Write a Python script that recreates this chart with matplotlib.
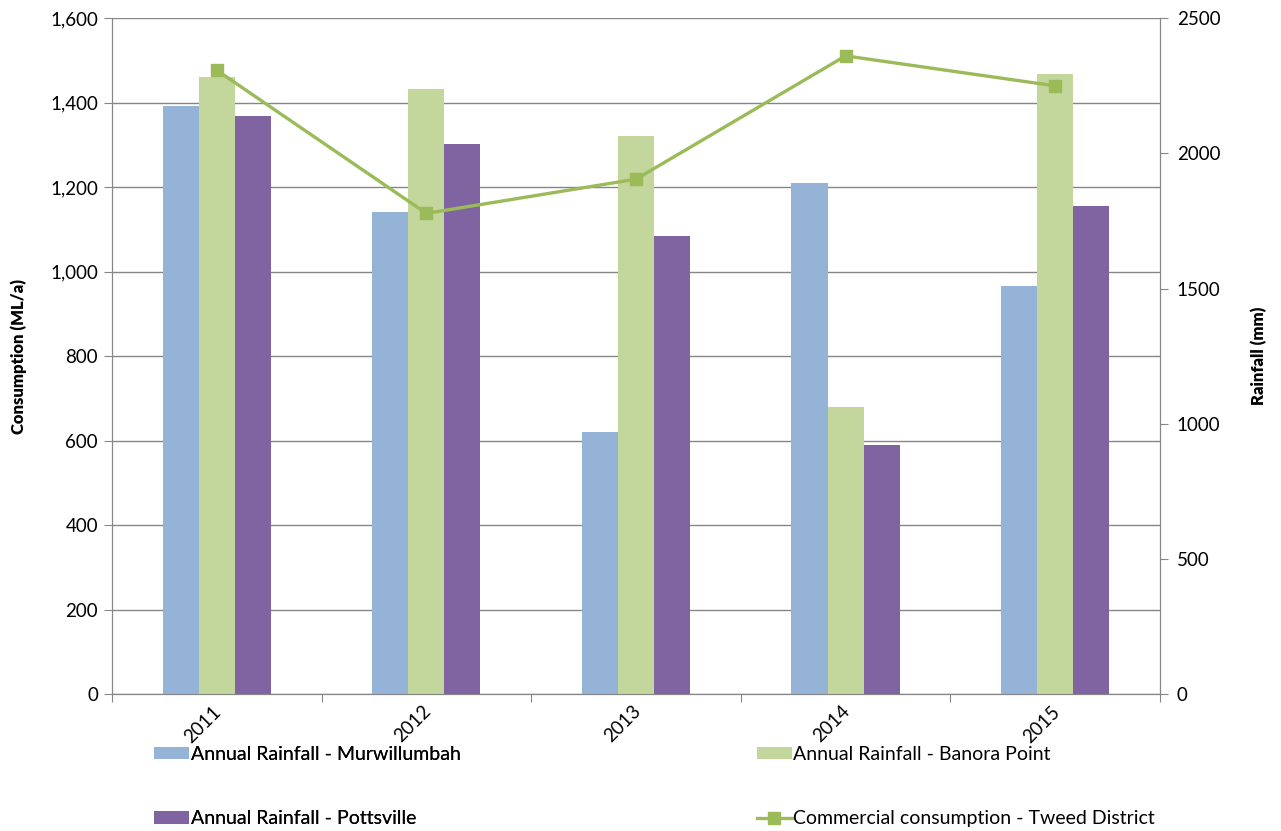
import numpy as np
import matplotlib.pyplot as plt
from matplotlib.ticker import FuncFormatter, MultipleLocator

plt.rcParams['font.family'] = ['Lato', 'DejaVu Sans']

years = ['2011', '2012', '2013', '2014', '2015']
murwillumbah = [2177, 1783, 970, 1889, 1509]
banora_point = [2281, 2240, 2066, 1061, 2293]
pottsville = [2139, 2036, 1694, 921, 1805]
commercial = [1477, 1138, 1219, 1511, 1440]

c_blue = '#95B3D7'
c_green = '#C3D69B'
c_purple = '#8064A2'
c_line = '#9BBB59'
c_axis = '#868686'

fig = plt.figure(figsize=(12.81, 8.31), dpi=100)
ax = fig.add_axes([0.0874, 0.1649, 0.8181, 0.8131])
ax2 = ax.twinx()
ax3 = ax.twinx()

x = np.arange(len(years))
w = 0.172

# bars on the rainfall (right) axis
b1 = ax2.bar(x - w, murwillumbah, w, color=c_blue, label='Annual Rainfall - Murwillumbah')
b2 = ax2.bar(x, banora_point, w, color=c_green, label='Annual Rainfall - Banora Point')
b3 = ax2.bar(x + w, pottsville, w, color=c_purple, label='Annual Rainfall - Pottsville')

# consumption line on left scale
ln, = ax3.plot(x, commercial, color=c_line, lw=2.4, marker='s', ms=8.5,
               label='Commercial consumption - Tweed District')

ax.set_xlim(-0.5, 4.5)
ax.set_ylim(0, 1600)
ax2.set_ylim(0, 2500)
ax3.set_ylim(0, 1600)
ax3.axis('off')

ax.yaxis.set_major_locator(MultipleLocator(200))
ax.yaxis.set_major_formatter(FuncFormatter(lambda v, p: f'{int(v):,}'))
ax2.yaxis.set_major_locator(MultipleLocator(500))
ax.grid(axis='y', color=c_axis, lw=1)
ax.set_axisbelow(True)

ax.set_xticks(np.arange(-0.5, 5, 1))
ax.set_xticklabels([])
ax.tick_params(axis='x', length=6, color=c_axis)
for i, yr in enumerate(years):
    ax.text(i - 0.02, -0.013, yr, transform=ax.get_xaxis_transform(), rotation=45,
            ha='right', va='top', rotation_mode='anchor', fontsize=13.5)

ax.tick_params(axis='y', length=6, color=c_axis, labelsize=13.5, pad=4)
ax2.tick_params(axis='y', length=6, color=c_axis, labelsize=13.5, pad=6)

for a in (ax, ax2):
    for s in a.spines.values():
        s.set_color(c_axis)
    a.spines['top'].set_visible(False)

ax.set_ylabel('Consumption (ML/a)', fontsize=12, fontweight='heavy', labelpad=17)
ax2.set_ylabel('Rainfall (mm)', fontsize=12, fontweight='heavy', labelpad=22)

leg_kw = dict(loc='upper left', frameon=False, fontsize=14, labelspacing=2.45,
              handlelength=1.8, handleheight=0.6, handletextpad=0.1, borderaxespad=0)
leg1 = fig.legend(handles=[b1, b3], bbox_to_anchor=(0.1145, 0.112), **leg_kw)
fig.legend(handles=[b2, ln], bbox_to_anchor=(0.5845, 0.112), **leg_kw)
fig.add_artist(leg1)

fig.savefig('out.png', dpi=100)
